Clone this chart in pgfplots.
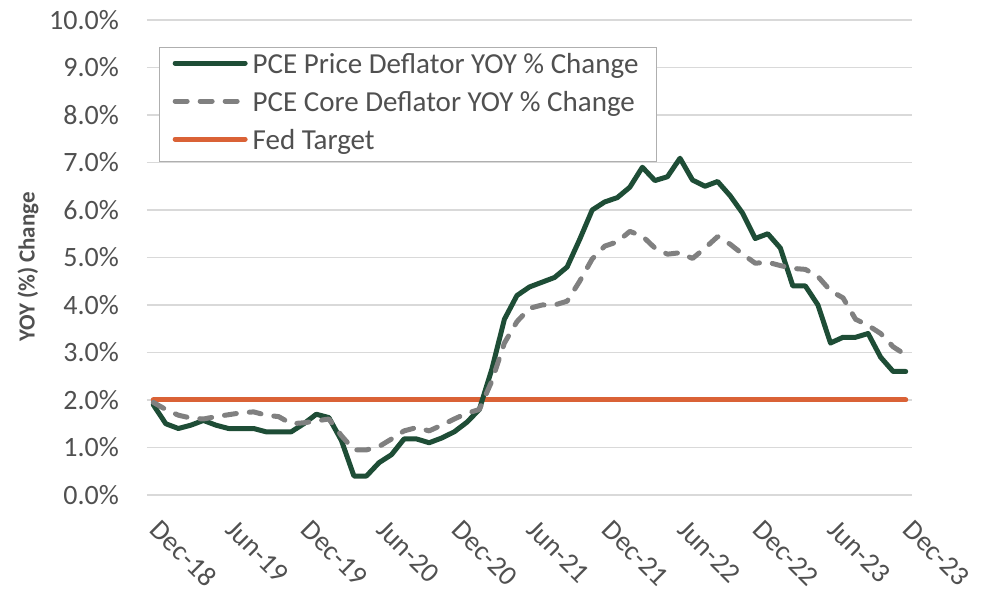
\documentclass[border=0pt]{standalone}
\usepackage{fontspec}
\setmainfont{Carlito}
\usepackage{pgfplots}
\usepackage{pgfplotstable}
\pgfplotsset{compat=1.18}
\definecolor{pcegreen}{RGB}{30,77,54}
\definecolor{coregray}{RGB}{128,128,128}
\definecolor{fedorange}{RGB}{218,98,54}
\definecolor{gridgray}{RGB}{217,217,217}
\definecolor{txtgray}{RGB}{80,80,80}
\definecolor{legborder}{RGB}{175,175,175}
\pgfplotstableread{
i pce core fed
0 1.90 1.95 2.0
1 1.50 1.80 2.0
2 1.40 1.68 2.0
3 1.47 1.62 2.0
4 1.57 1.60 2.0
5 1.47 1.65 2.0
6 1.40 1.69 2.0
7 1.40 1.73 2.0
8 1.40 1.75 2.0
9 1.33 1.68 2.0
10 1.33 1.65 2.0
11 1.33 1.50 2.0
12 1.50 1.52 2.0
13 1.70 1.56 2.0
14 1.63 1.60 2.0
15 1.15 1.25 2.0
16 0.40 0.95 2.0
17 0.40 0.95 2.0
18 0.68 1.02 2.0
19 0.85 1.18 2.0
20 1.18 1.35 2.0
21 1.18 1.42 2.0
22 1.10 1.35 2.0
23 1.20 1.47 2.0
24 1.33 1.60 2.0
25 1.53 1.72 2.0
26 1.80 1.80 2.0
27 2.65 2.40 2.0
28 3.70 3.20 2.0
29 4.20 3.65 2.0
30 4.38 3.93 2.0
31 4.48 4.00 2.0
32 4.58 4.00 2.0
33 4.80 4.08 2.0
34 5.38 4.50 2.0
35 6.00 4.97 2.0
36 6.17 5.24 2.0
37 6.26 5.33 2.0
38 6.48 5.55 2.0
39 6.90 5.45 2.0
40 6.62 5.20 2.0
41 6.70 5.07 2.0
42 7.09 5.10 2.0
43 6.63 4.98 2.0
44 6.50 5.20 2.0
45 6.60 5.44 2.0
46 6.30 5.28 2.0
47 5.93 5.07 2.0
48 5.40 4.88 2.0
49 5.50 4.90 2.0
50 5.20 4.83 2.0
51 4.40 4.77 2.0
52 4.40 4.75 2.0
53 4.00 4.60 2.0
54 3.20 4.30 2.0
55 3.32 4.15 2.0
56 3.32 3.70 2.0
57 3.40 3.57 2.0
58 2.90 3.40 2.0
59 2.60 3.12 2.0
60 2.60 2.95 2.0
}\datatable
\begin{document}
\begin{tikzpicture}
\useasboundingbox (-147bp,-94bp) rectangle (838bp,495bp);
\begin{axis}[
  at={(0,0)}, anchor=south west,
  scale only axis, width=765bp, height=475bp,
  xmin=-0.5, xmax=60.5, ymin=0, ymax=10,
  axis line style={draw=none},
  major tick length=0pt,
  xtick={0,6,...,60},
  xticklabels={Dec-18,Jun-19,Dec-19,Jun-20,Dec-20,Jun-21,Dec-21,Jun-22,Dec-22,Jun-23,Dec-23},
  ytick={0,1,...,10},
  yticklabel={\pgfmathprintnumber[fixed,fixed zerofill,precision=1]{\tick}\%},
  /pgf/number format/assume math mode=true,
  ymajorgrids,
  grid style={draw=gridgray, line width=1.3bp},
  tick label style={font=\fontsize{28bp}{34bp}\selectfont, text=txtgray},
  yticklabel style={anchor=east, inner sep=0pt, xshift=-28bp},
  xticklabel style={xshift=9bp, yshift=-23bp, rotate=-45, anchor=north west, inner sep=0pt},
  ylabel={YOY (\%) Change},
  ylabel style={font=\fontsize{23bp}{28bp}\selectfont\bfseries, text=txtgray, at={(axis description cs:-0.1556,0.48)}, anchor=center},
  legend style={at={(0.0157,0.9432)}, anchor=north west, draw=legborder, line width=1.3bp,
    font=\fontsize{29bp}{35bp}\selectfont, text=txtgray, inner xsep=13bp, inner ysep=0bp,
    nodes={inner xsep=5bp, inner ysep=5bp, text height=21bp, text depth=7bp}},
  legend cell align=left,
  legend image code/.code={\draw[#1] (0bp,0.35em) -- (70bp,0.35em);},
]
\addplot[fedorange, line width=5bp, line cap=round, forget plot] table[x=i, y=fed] {\datatable};
\addplot[pcegreen, line width=5bp, line cap=round, line join=round] table[x=i, y=pce] {\datatable};
\addplot[coregray, line width=5bp, line cap=round, line join=round, dash pattern=on 12bp off 13bp] table[x=i, y=core] {\datatable};
\addlegendimage{fedorange, line width=5bp, line cap=round}
\legend{PCE Price Deflator YOY \% Change, PCE Core Deflator YOY \% Change, Fed Target}
\end{axis}
\end{tikzpicture}
\end{document}
